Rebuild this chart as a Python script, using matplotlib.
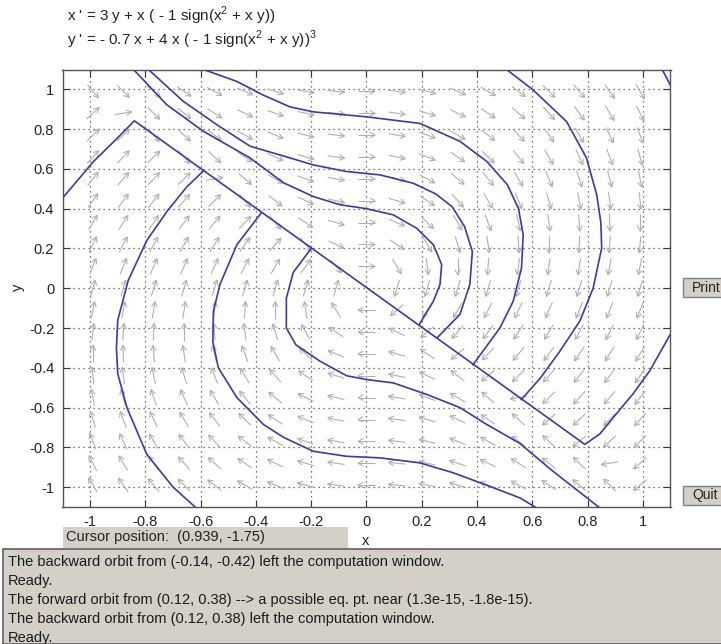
import numpy as np
import matplotlib
matplotlib.use("Agg")
import matplotlib.pyplot as plt
from matplotlib.collections import LineCollection
from matplotlib.patches import Rectangle

plt.rcParams['font.family'] = ['Liberation Sans', 'DejaVu Sans']
plt.rcParams['mathtext.fontset'] = 'custom'
plt.rcParams['mathtext.rm'] = 'Liberation Sans'

# x' = a*y + x*(c*sign(x^2 + x*y)),  y' = b*x + d*x*(c*sign(x^2 + x*y))^3
a_coef = 3.0
b_coef = -0.7
c_coef = -1.0
d_coef = 4.0

x_range = (-1.1, 1.1)
y_range = (-1.1, 1.1)
n_field = 21
ticks = [-1, -0.8, -0.6, -0.4, -0.2, 0, 0.2, 0.4, 0.6, 0.8, 1]
tick_labels = ['-1', '-0.8', '-0.6', '-0.4', '-0.2', '0', '0.2', '0.4', '0.6', '0.8', '1']

# solution curves (x, y)
orbit_diag = [(-1.1, 0.453), (-0.988, 0.637), (-0.903, 0.753), (-0.84, 0.842),
              (0.79, -0.785), (0.844, -0.733), (0.893, -0.65), (0.965, -0.53),
              (1.025, -0.415), (1.1, -0.23)]
orbit_left_outer = [(-0.62, -1.1), (-0.70, -1.0), (-0.795, -0.835), (-0.867, -0.60),
                    (-0.90, -0.43), (-0.905, -0.30), (-0.90, -0.16), (-0.862, 0.04),
                    (-0.795, 0.24), (-0.72, 0.39), (-0.65, 0.51), (-0.59, 0.59)]
orbit_left_inner = [(-0.38, 0.38), (-0.469, 0.219), (-0.53, 0.02), (-0.554, -0.115),
                    (-0.556, -0.27), (-0.536, -0.40), (-0.469, -0.55), (-0.373, -0.685),
                    (-0.30, -0.75), (-0.192, -0.82), (-0.072, -0.845), (0.049, -0.853),
                    (0.193, -0.878), (0.314, -0.928), (0.459, -1.003), (0.555, -1.054),
                    (0.61, -1.1)]
orbit_lower_s = [(-0.2, 0.2), (-0.265, 0.08), (-0.29, -0.05), (-0.29, -0.2),
                 (-0.255, -0.285), (-0.168, -0.367), (-0.072, -0.44), (0.0, -0.459),
                 (0.097, -0.476), (0.218, -0.534), (0.338, -0.60), (0.435, -0.685),
                 (0.555, -0.78), (0.67, -0.915), (0.84, -1.1)]
orbit_loop_inner = [(-0.843, 1.1), (-0.723, 0.923), (-0.59, 0.789), (-0.421, 0.655),
                    (-0.30, 0.53), (-0.192, 0.461), (-0.096, 0.42), (0.0, 0.40),
                    (0.097, 0.369), (0.181, 0.302), (0.242, 0.219), (0.272, 0.119),
                    (0.266, 0.019), (0.242, -0.065), (0.19, -0.185)]
orbit_loop_middle = [(-0.789, 1.1), (-0.663, 0.94), (-0.542, 0.823), (-0.421, 0.714),
                     (-0.30, 0.665), (-0.192, 0.62), (-0.072, 0.587), (0.049, 0.57),
                     (0.169, 0.528), (0.25, 0.475), (0.31, 0.41), (0.355, 0.31),
                     (0.383, 0.185), (0.374, 0.019), (0.338, -0.132), (0.255, -0.25)]
orbit_loop_outer = [(-0.59, 1.1), (-0.469, 1.04), (-0.373, 0.971), (-0.277, 0.912),
                    (-0.192, 0.887), (0.0, 0.862), (0.193, 0.829), (0.338, 0.739),
                    (0.435, 0.638), (0.51, 0.52), (0.55, 0.40), (0.567, 0.269),
                    (0.561, 0.102), (0.531, -0.065), (0.483, -0.199), (0.43, -0.30),
                    (0.385, -0.385)]
orbit_right = [(0.507, 1.1), (0.603, 0.997), (0.724, 0.838), (0.796, 0.655),
               (0.833, 0.47), (0.848, 0.33), (0.851, 0.202), (0.82, 0.0),
               (0.772, -0.165), (0.70, -0.316), (0.63, -0.45), (0.56, -0.56)]
orbit_corner = [(1.07, 1.1), (1.1, 1.02)]
orbits = [orbit_diag, orbit_left_outer, orbit_left_inner, orbit_lower_s,
          orbit_loop_inner, orbit_loop_middle, orbit_loop_outer, orbit_right, orbit_corner]

eq_lines = [r"x ' = 3 y + x ( - 1 sign(x$^{\mathregular{2}}$ + x y))",
            r"y ' = - 0.7 x + 4 x ( - 1 sign(x$^{\mathregular{2}}$ + x y))$^{\mathregular{3}}$"]
cursor_text = "Cursor position:  (0.939, -1.75)"
messages = ["The backward orbit from (-0.14, -0.42) left the computation window.",
            "Ready.",
            "The forward orbit from (0.12, 0.38) --> a possible eq. pt. near (1.3e-15, -1.8e-15).",
            "The backward orbit from (0.12, 0.38) left the computation window.",
            "Ready."]

W, H = 721, 644
panel = '#d4d0c8'
orbit_color = '#3a3aa8'
ink = '#222222'


def fx(px):
    return px / W


def fy(py):
    return 1 - py / H


fig = plt.figure(figsize=(W / 100, H / 100), dpi=100, facecolor='white')
ax = fig.add_axes([fx(62.5), fy(507), (670.5 - 62.5) / W, (507 - 69.5) / H])
ax.set_xlim(x_range)
ax.set_ylim(y_range)
ax.set_xticks(ticks)
ax.set_xticklabels(tick_labels)
ax.set_yticks(ticks)
ax.set_yticklabels(tick_labels)
ax.tick_params(direction='in', length=5, top=True, right=True, labelsize=10.5,
               color='#333333', labelcolor=ink, pad=6)
for sp in ax.spines.values():
    sp.set_color('#555555')
    sp.set_linewidth(1.0)
ax.grid(True, color='#4a4a4a', linestyle=(0, (1, 3)), linewidth=0.9)
ax.set_axisbelow(True)

# direction field, arrows of fixed screen length centred on the grid points
g = np.linspace(x_range[0], x_range[1], n_field)[1:-1]
gx, gy = np.meshgrid(g, g)
gx, gy = gx.ravel(), gy.ravel()
sw = c_coef * np.sign(gx ** 2 + gx * gy)
vx = a_coef * gy + gx * sw
vy = b_coef * gx + d_coef * gx * sw ** 3

p0 = ax.transData.transform(np.column_stack([gx, gy]))
p1 = ax.transData.transform(np.column_stack([gx + 1e-4 * vx, gy + 1e-4 * vy]))
d = p1 - p0
nrm = np.hypot(d[:, 0], d[:, 1])
nrm[nrm == 0] = 1
u = d / nrm[:, None]
L, hl, ha = 17.0, 6.0, np.radians(28)
tail = p0 - u * L / 2
tip = p0 + u * L / 2
segs = []
for t, h, (ux, uy) in zip(tail, tip, u):
    segs.append([t, h])
    for s in (ha, -ha):
        cx = -ux * np.cos(s) + uy * np.sin(s)
        cy = -ux * np.sin(s) - uy * np.cos(s)
        segs.append([h, h + hl * np.array([cx, cy])])
inv = ax.transData.inverted()
segs = [inv.transform(np.array(sg)) for sg in segs]
ax.add_collection(LineCollection(segs, colors='#b0b0b0', linewidths=0.8, zorder=2))

for orb in orbits:
    xs, ys = zip(*orb)
    ax.plot(xs, ys, color=orbit_color, lw=1.2, zorder=3)

# axis names
fig.text(fx(366), fy(541), 'x', fontsize=10.5, ha='center', va='center', color=ink)
fig.text(fx(18), fy(287), 'y', fontsize=10.5, ha='center', va='center', rotation=90, color=ink)

# equation header
fig.text(fx(67), fy(16), eq_lines[0], fontsize=11, va='center', color=ink)
fig.text(fx(67), fy(40), eq_lines[1], fontsize=11, va='center', color=ink)

# cursor panel
fig.patches.append(Rectangle((fx(63), fy(548)), (348 - 63) / W, 21 / H,
                             transform=fig.transFigure, facecolor=panel, edgecolor='none'))
fig.text(fx(66), fy(537), cursor_text, fontsize=10.5, va='center', color=ink)

# message panel
fig.patches.append(Rectangle((fx(3), 0), 1, (H - 549) / H, transform=fig.transFigure,
                             facecolor=panel, edgecolor='#606060', linewidth=1.2))
for i, msg in enumerate(messages):
    fig.text(fx(8), fy(562 + 19 * i), msg, fontsize=10.5, va='center', color='#1a1a1a')

# buttons
for label, top in (('Print', 278), ('Quit', 486)):
    fig.patches.append(Rectangle((fx(683), fy(top + 19)), 40 / W, 19 / H,
                                 transform=fig.transFigure, facecolor=panel,
                                 edgecolor='#808080', linewidth=1.0))
    fig.text(fx(692), fy(top + 9.5), label, fontsize=10, va='center', color=ink)

fig.savefig('out.png', dpi=100, facecolor='white')
